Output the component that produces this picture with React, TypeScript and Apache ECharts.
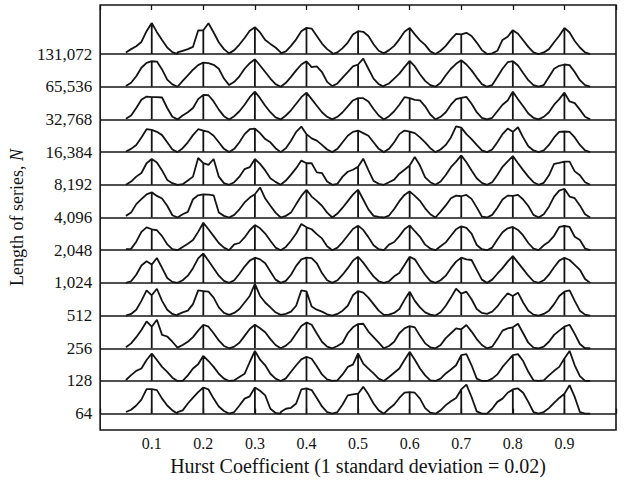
import React, { useEffect, useRef } from "react";
import * as echarts from "echarts";

// Row labels (length of series N), bottom row first
const ROW_LABELS = ["64", "128", "256", "512", "1,024", "2,048", "4,096", "8,192", "16,384", "32,768", "65,536", "131,072"];
// Hurst coefficient centres of the nine histograms
const CENTERS = [0.1, 0.2, 0.3, 0.4, 0.5, 0.6, 0.7, 0.8, 0.9];
// Histogram bin offsets from each centre
const BIN_OFFSETS = [-0.05, -0.04, -0.03, -0.02, -0.01, 0, 0.01, 0.02, 0.03, 0.04, 0.05];
const X_TICK_LABELS = ["0.1", "0.2", "0.3", "0.4", "0.5", "0.6", "0.7", "0.8", "0.9"];

// Histogram heights (% of row height), one array of bins per centre
const row131072 = [
  [5, 15, 24, 37, 70, 95, 67, 43, 20, 6, 0],
  [5, 10, 15, 22, 72, 73, 94, 66, 36, 15, 2],
  [2, 12, 29, 49, 71, 82, 66, 43, 31, 20, 5],
  [2, 8, 25, 45, 70, 80, 78, 55, 32, 15, 3],
  [0, 5, 18, 35, 60, 70, 68, 55, 30, 10, 2],
  [3, 12, 25, 45, 68, 80, 60, 42, 28, 8, 0],
  [2, 10, 25, 45, 62, 60, 65, 55, 35, 12, 0],
  [0, 2, 10, 43, 53, 73, 62, 42, 22, 5, 0],
  [0, 5, 15, 36, 56, 80, 66, 40, 20, 5, 0],
];
const row65536 = [
  [2, 12, 32, 58, 73, 78, 77, 53, 22, 7, 0],
  [2, 18, 35, 52, 66, 74, 72, 67, 55, 25, 5],
  [3, 15, 32, 55, 72, 84, 65, 45, 25, 8, 0],
  [2, 12, 30, 50, 68, 78, 60, 62, 45, 15, 2],
  [0, 10, 28, 45, 62, 68, 86, 55, 25, 8, 0],
  [3, 10, 25, 40, 60, 79, 62, 38, 18, 5, 0],
  [2, 12, 35, 55, 70, 81, 68, 50, 28, 8, 0],
  [0, 5, 30, 55, 75, 78, 65, 42, 20, 5, 0],
  [0, 5, 30, 55, 64, 68, 66, 45, 20, 5, 0],
];
const row32768 = [
  [2, 12, 35, 60, 70, 68, 68, 67, 35, 8, 0],
  [2, 12, 22, 35, 62, 75, 74, 55, 30, 10, 0],
  [2, 10, 25, 45, 68, 85, 65, 42, 22, 6, 0],
  [2, 12, 28, 48, 68, 82, 62, 42, 22, 8, 0],
  [0, 8, 22, 40, 58, 65, 65, 55, 32, 12, 0],
  [2, 10, 25, 45, 68, 65, 60, 58, 40, 15, 0],
  [0, 8, 22, 45, 62, 66, 69, 48, 22, 5, 0],
  [0, 5, 25, 45, 58, 85, 62, 40, 18, 5, 0],
  [0, 8, 22, 45, 62, 82, 55, 50, 30, 8, 0],
];
const row16384 = [
  [2, 10, 22, 45, 70, 68, 62, 52, 30, 8, 0],
  [2, 12, 30, 52, 70, 66, 62, 50, 30, 10, 0],
  [2, 10, 30, 55, 70, 72, 58, 40, 30, 12, 0],
  [2, 12, 35, 62, 78, 55, 42, 35, 22, 8, 0],
  [0, 10, 30, 50, 62, 66, 58, 50, 30, 10, 0],
  [2, 10, 30, 55, 66, 63, 58, 45, 30, 12, 0],
  [0, 8, 22, 45, 79, 75, 55, 40, 22, 5, 0],
  [0, 8, 30, 55, 72, 62, 76, 45, 18, 5, 0],
  [0, 5, 22, 45, 62, 63, 62, 45, 22, 5, 0],
];
const row8192 = [
  [0, 10, 25, 36, 66, 79, 68, 44, 15, 5, 0],
  [0, 2, 13, 25, 82, 66, 61, 79, 25, 5, 0],
  [0, 8, 25, 48, 54, 79, 64, 44, 20, 9, 0],
  [0, 13, 31, 51, 74, 66, 66, 38, 36, 10, 0],
  [0, 3, 25, 40, 46, 55, 80, 45, 12, 3, 0],
  [0, 8, 16, 34, 46, 59, 85, 59, 23, 8, 0],
  [0, 10, 30, 54, 71, 90, 69, 44, 20, 6, 0],
  [0, 8, 30, 55, 72, 88, 66, 45, 25, 8, 0],
  [0, 6, 29, 64, 67, 71, 71, 41, 29, 8, 0],
];
const row4096 = [
  [5, 15, 41, 56, 71, 77, 66, 58, 36, 7, 0],
  [0, 10, 17, 56, 68, 71, 70, 68, 15, 5, 0],
  [0, 8, 25, 46, 61, 71, 92, 58, 36, 15, 0],
  [0, 5, 15, 41, 66, 85, 64, 51, 36, 15, 0],
  [0, 12, 30, 50, 70, 85, 55, 25, 5, 2, 0],
  [0, 6, 26, 50, 69, 80, 66, 51, 28, 10, 0],
  [0, 18, 37, 59, 67, 65, 69, 57, 31, 3, 0],
  [0, 8, 30, 55, 67, 66, 69, 55, 35, 8, 0],
  [0, 10, 33, 64, 82, 88, 64, 59, 37, 10, 0],
];
const row2048 = [
  [3, 4, 26, 56, 70, 64, 61, 43, 18, 3, 0],
  [0, 10, 20, 31, 56, 84, 64, 43, 22, 8, 0],
  [0, 18, 22, 39, 61, 77, 67, 51, 29, 8, 0],
  [2, 10, 29, 51, 80, 70, 64, 49, 36, 12, 0],
  [0, 8, 25, 45, 65, 75, 62, 40, 15, 3, 0],
  [0, 17, 25, 43, 64, 76, 58, 41, 17, 5, 0],
  [0, 12, 24, 44, 64, 73, 68, 51, 16, 3, 0],
  [0, 8, 33, 55, 67, 71, 62, 45, 22, 5, 0],
  [0, 15, 26, 44, 71, 74, 71, 41, 31, 5, 0],
];
const row1024 = [
  [0, 5, 25, 53, 66, 56, 76, 46, 15, 3, 0],
  [0, 8, 22, 45, 75, 90, 68, 45, 22, 6, 0],
  [0, 8, 28, 50, 68, 77, 72, 60, 35, 10, 0],
  [0, 6, 25, 52, 72, 77, 76, 60, 30, 8, 0],
  [0, 8, 25, 45, 68, 80, 62, 40, 20, 5, 0],
  [0, 5, 20, 30, 55, 80, 72, 48, 25, 6, 0],
  [0, 8, 22, 45, 65, 77, 72, 70, 40, 10, 0],
  [0, 10, 28, 45, 65, 82, 62, 42, 22, 5, 0],
  [0, 8, 25, 48, 68, 77, 70, 55, 40, 12, 0],
];
const row512 = [
  [0, 5, 18, 45, 77, 62, 82, 45, 18, 5, 0],
  [3, 10, 15, 35, 77, 75, 73, 55, 25, 8, 2],
  [2, 8, 20, 40, 60, 97, 60, 40, 25, 10, 2],
  [2, 5, 12, 30, 77, 74, 28, 18, 12, 4, 0],
  [0, 5, 15, 30, 62, 75, 70, 55, 35, 15, 2],
  [0, 3, 8, 20, 48, 73, 45, 25, 10, 3, 0],
  [2, 10, 30, 55, 82, 67, 73, 50, 20, 8, 5],
  [5, 12, 28, 50, 68, 60, 70, 40, 15, 3, 0],
  [0, 5, 15, 35, 60, 73, 77, 45, 15, 3, 0],
];
const row256 = [
  [3, 15, 34, 56, 82, 66, 87, 41, 36, 20, 2],
  [0, 10, 20, 34, 54, 72, 66, 46, 24, 7, 0],
  [0, 5, 17, 38, 59, 72, 61, 49, 28, 10, 0],
  [0, 8, 22, 45, 68, 79, 72, 45, 20, 5, 0],
  [0, 7, 17, 46, 64, 74, 75, 51, 34, 17, 0],
  [0, 7, 20, 46, 61, 68, 64, 38, 15, 3, 0],
  [0, 10, 31, 46, 61, 58, 71, 51, 28, 10, 0],
  [0, 5, 28, 54, 61, 64, 75, 46, 17, 2, 0],
  [0, 5, 20, 41, 54, 66, 72, 44, 13, 0, 0],
];
const row128 = [
  [3, 18, 31, 38, 64, 84, 64, 43, 28, 10, 0],
  [0, 0, 17, 38, 51, 77, 61, 43, 22, 7, 0],
  [0, 2, 12, 22, 58, 92, 65, 48, 22, 7, 0],
  [0, 8, 28, 48, 66, 74, 68, 45, 20, 5, 0],
  [0, 2, 20, 43, 50, 84, 53, 38, 23, 7, 0],
  [0, 12, 25, 38, 64, 89, 65, 38, 17, 2, 0],
  [0, 7, 23, 35, 48, 79, 82, 48, 7, 0, 0],
  [0, 7, 20, 43, 61, 79, 82, 61, 28, 2, 0],
  [0, 2, 17, 31, 43, 69, 92, 48, 15, 0, 0],
];
const row64 = [
  [5, 12, 25, 43, 75, 75, 72, 46, 25, 10, 0],
  [5, 10, 31, 49, 66, 80, 74, 46, 22, 8, 0],
  [0, 5, 25, 46, 53, 80, 70, 56, 15, 2, 0],
  [5, 15, 18, 31, 74, 77, 72, 48, 22, 5, 0],
  [0, 5, 28, 56, 59, 61, 82, 59, 31, 10, 0],
  [0, 15, 28, 48, 64, 66, 64, 46, 17, 3, 0],
  [0, 10, 26, 38, 48, 74, 89, 51, 7, 0, 0],
  [0, 15, 36, 46, 64, 74, 77, 64, 36, 5, 0],
  [0, 5, 17, 33, 48, 61, 87, 51, 5, 0, 0],
];

const ROWS = [row64, row128, row256, row512, row1024, row2048, row4096, row8192, row16384, row32768, row65536, row131072];

const FONT = "Liberation Serif";
const INK = "#141414";

function buildRow(peaks: number[][], base: number): number[][] {
  const pts: number[][] = [];
  peaks.forEach((bins, k) => {
    const c = CENTERS[k];
    bins.forEach((h, j) => {
      const x = Math.round((c + BIN_OFFSETS[j]) * 1000) / 1000;
      const y = base + h / 100;
      pts.push([x, y]);
      if (j === 5) {
        // vertical marker at the true coefficient
        pts.push([x, base]);
        pts.push([x, y]);
      }
    });
  });
  return pts;
}

export default function App() {
  const ref = useRef<HTMLDivElement>(null);
  useEffect(() => {
    if (!ref.current) return;
    const chart = echarts.init(ref.current, null, { renderer: "svg" });
    const series = ROWS.map((peaks, i) => ({
      type: "line",
      data: buildRow(peaks, i),
      symbol: "none",
      showSymbol: false,
      silent: true,
      lineStyle: { color: INK, width: 1.8 },
      markLine: {
        silent: true,
        symbol: ["none", "none"],
        label: { show: false },
        lineStyle: { color: INK, width: 1.6, type: "solid" },
        data: [{ yAxis: i }],
      },
    }));
    chart.setOption({
      animation: false,
      backgroundColor: "#ffffff",
      grid: {
        left: 98,
        right: 8,
        top: 5,
        bottom: 53,
        show: true,
        borderColor: INK,
        borderWidth: 1.6,
        backgroundColor: "transparent",
      },
      xAxis: [
        {
          type: "value",
          min: 0,
          max: 1,
          interval: 0.1,
          position: "bottom",
          axisLine: { show: false },
          axisTick: { show: true, inside: true, length: 5, lineStyle: { color: INK, width: 1.3 } },
          splitLine: { show: false },
          axisLabel: {
            margin: 5,
            fontFamily: FONT,
            fontSize: 16,
            color: INK,
            formatter: (v: number) => {
              const idx = Math.round(v * 10) - 1;
              return idx >= 0 && idx < X_TICK_LABELS.length ? X_TICK_LABELS[idx] : "";
            },
          },
          name: "Hurst Coefficient (1 standard deviation = 0.02)",
          nameLocation: "middle",
          nameGap: 26,
          nameTextStyle: { fontFamily: FONT, fontSize: 20, color: INK },
        },
        {
          type: "value",
          min: 0,
          max: 1,
          interval: 0.1,
          position: "top",
          axisLine: { show: false },
          axisTick: { show: true, inside: true, length: 5, lineStyle: { color: INK, width: 1.3 } },
          splitLine: { show: false },
          axisLabel: { show: false },
        },
      ],
      yAxis: {
        type: "value",
        min: -0.5,
        max: 12.5,
        interval: 0.5,
        axisLine: { show: false },
        axisTick: { show: false },
        splitLine: { show: false },
        axisLabel: {
          margin: 8,
          fontFamily: FONT,
          fontSize: 17,
          color: INK,
          formatter: (v: number) => {
            const r = Math.round(v);
            if (Math.abs(v - r) < 1e-6 && r >= 0 && r < ROW_LABELS.length) return ROW_LABELS[r];
            return "";
          },
        },
        name: "{a|Length of series, }{b|N}",
        nameLocation: "middle",
        nameGap: 72,
        nameTextStyle: {
          fontFamily: FONT,
          fontSize: 18,
          color: INK,
          rich: {
            a: { fontFamily: FONT, fontSize: 18, color: INK },
            b: { fontFamily: FONT, fontSize: 18, color: INK, fontStyle: "italic" },
          },
        },
      },
      series,
    });
    return () => chart.dispose();
  }, []);
  return (
    <div
      ref={ref}
      style={{ position: "absolute", left: 0, top: 0, width: 624, height: 483, background: "#fff" }}
    />
  );
}
